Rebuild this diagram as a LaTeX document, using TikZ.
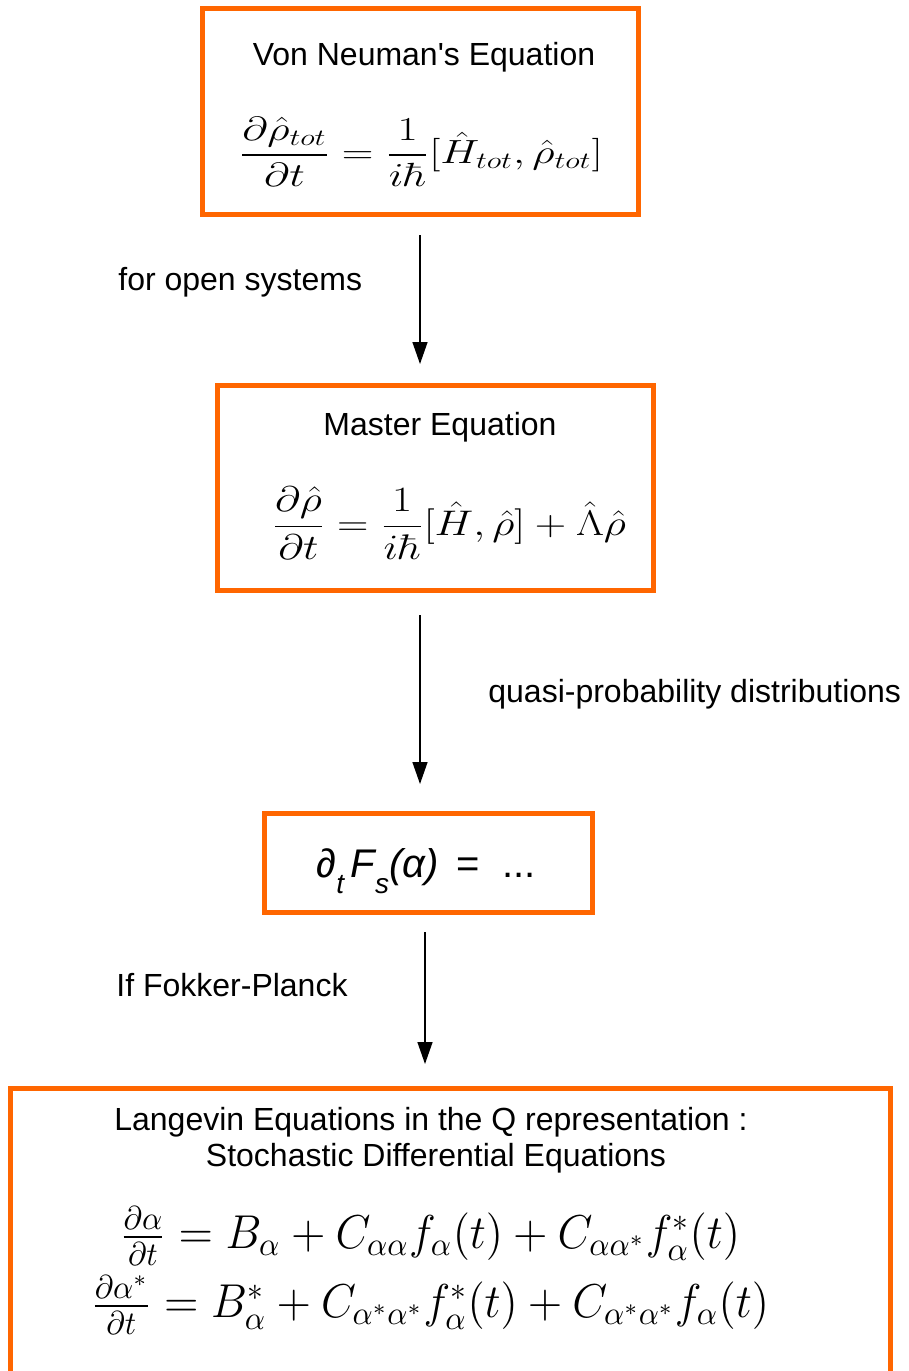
\documentclass[tikz,border=0pt]{standalone}
\usepackage{amsmath}
\usepackage[no-math]{fontspec}
\setmainfont{Liberation Sans}
\usetikzlibrary{arrows.meta}
\definecolor{box_orange}{RGB}{255, 102, 0}
\tikzstyle{eqbox}=[rectangle,draw=box_orange,line width=2.5pt,inner sep=0pt]
\tikzstyle{lbl}=[font=\fontsize{16}{19}\selectfont,inner sep=0pt,anchor=base]
\tikzstyle{eq}=[font=\fontsize{18}{22}\selectfont,inner sep=0pt]
\tikzstyle{smalleq}=[font=\fontsize{14}{17}\selectfont,inner sep=0pt]
\tikzstyle{flow}=[line width=0.7pt,-{Triangle[length=11pt,width=7.5pt]}]

\begin{document}
\begin{tikzpicture}[x=0.5pt,y=-0.5pt]
    \useasboundingbox (0,0) rectangle (909,1371);
    \clip (0,0) rectangle (909,1371);
    % boxes
    \node [eqbox,minimum width=218pt,minimum height=103pt] (neumann) at (420,111) {};
    \node [eqbox,minimum width=218pt,minimum height=102.5pt] (master) at (435,487.5) {};
    \node [eqbox,minimum width=164pt,minimum height=49.5pt] (fokker) at (428,862.5) {};
    \node [eqbox,minimum width=440pt,minimum height=170pt] (langevin) at (450,1258) {};
    % box contents
    \node [lbl] (neumanntitle) at (424,65) {Von Neuman\textquotesingle s Equation};
    \node [eq] (neumanneq) at (421,152)
      {\scalebox{1.27}[0.97]{$\displaystyle\frac{\partial\hat{\rho}_{tot}}{\partial t}=\frac{1}{i\hbar}[\hat{H}_{tot},\hat{\rho}_{tot}]$}};
    \node [lbl] (mastertitle) at (440,435) {Master Equation};
    \node [eq] (mastereq) at (449,523)
      {\scalebox{1.26}[1.03]{$\displaystyle\frac{\partial\hat{\rho}}{\partial t}=\frac{1}{i\hbar}[\hat{H},\hat{\rho}]+\hat{\Lambda}\hat{\rho}$}};
    \node [lbl,font=\fontsize{20}{24}\selectfont] (fokkereq) at (426,877)
      {\textit{∂\raisebox{-0.4em}{\fontsize{14}{16}\selectfont t}\,F\raisebox{-0.4em}{\fontsize{14}{16}\selectfont s}(α)}\ \,=\ \ ...};
    \node [lbl] (langevintitle) at (431,1130) {Langevin Equations in the Q representation :};
    \node [lbl] (langevinsub) at (436,1166) {Stochastic Differential Equations};
    \node [smalleq] (langevineq1) at (430,1236)
      {\scalebox{1.57}[1.65]{$\tfrac{\partial\alpha}{\partial t}=B_{\alpha}+C_{\alpha\alpha}f_{\alpha}(t)+C_{\alpha\alpha^*}f^*_{\alpha}(t)$}};
    \node [smalleq] (langevineq2) at (430,1305)
      {\scalebox{1.57}[1.65]{$\tfrac{\partial\alpha^*}{\partial t}=B^*_{\alpha}+C_{\alpha^*\alpha^*}f^*_{\alpha}(t)+C_{\alpha^*\alpha^*}f_{\alpha}(t)$}};
    % steps between boxes
    \coordinate (s1a) at (420,235);
    \coordinate (s1b) at (420,364);
    \coordinate (s2a) at (420,615);
    \coordinate (s2b) at (420,784);
    \coordinate (s3a) at (425,932);
    \coordinate (s3b) at (425,1064);
    \draw [flow] (s1a) to (s1b);
    \draw [flow] (s2a) to (s2b);
    \draw [flow] (s3a) to (s3b);
    \node [lbl,anchor=base west] (open) at (118,290) {for open systems};
    \node [lbl,anchor=base west] (quasi) at (488,702) {quasi-probability distributions};
    \node [lbl,anchor=base west] (ifFP) at (116,996) {If Fokker-Planck};
\end{tikzpicture}
\end{document}
